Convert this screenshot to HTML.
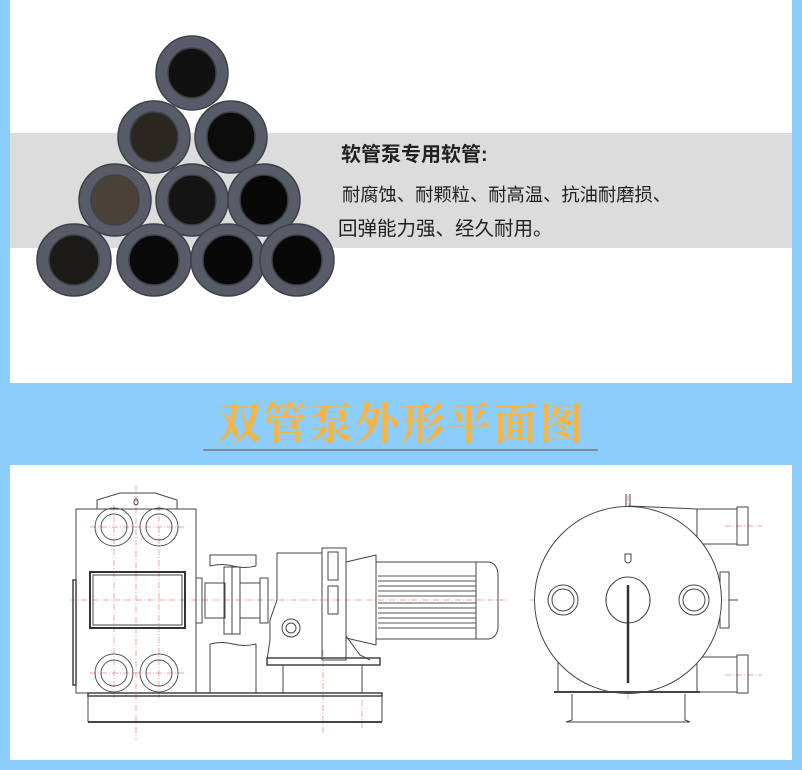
<!DOCTYPE html>
<html><head><meta charset="utf-8"><style>
html,body{margin:0;padding:0;}
body{width:802px;height:770px;background:#8dcdfb;position:relative;overflow:hidden;font-family:"Liberation Sans","Noto Sans CJK SC",sans-serif;}
.p1{position:absolute;left:10px;top:0;width:782px;height:383px;background:#fff;}
.band{position:absolute;left:10px;top:133px;width:782px;height:115px;background:#dcdcdc;}
.t1{position:absolute;left:341px;top:141px;font-size:20px;font-weight:bold;color:#222;line-height:28px;}
.t2{position:absolute;left:342px;top:182px;font-size:18.3px;color:#222;line-height:26px;white-space:nowrap;}
.t3{position:absolute;left:338px;top:216px;font-size:19.5px;color:#222;line-height:26px;white-space:nowrap;}
.title{position:absolute;left:0;width:802px;top:393px;text-align:center;font-family:"Noto Serif CJK SC",serif;font-size:44px;line-height:54px;font-weight:bold;color:#f5b544;letter-spacing:2px;}
.line{position:absolute;left:203px;top:449px;width:395px;height:2px;background:#7f8c97;}
.p2{position:absolute;left:10px;top:465px;width:782px;height:295px;background:#fff;}
</style></head><body>
<div class="p1"></div>
<div class="band"></div>
<svg style="position:absolute;left:0;top:0" width="802" height="383">
<g stroke="#3e4148" stroke-width="1.5">
<ellipse cx="192" cy="73" rx="36" ry="37" fill="#575c68"/><ellipse cx="192" cy="73" rx="24" ry="25" fill="#111"/>
<ellipse cx="154" cy="137" rx="36" ry="36" fill="#575c68"/><ellipse cx="154" cy="137" rx="24" ry="25" fill="#2a2620"/>
<ellipse cx="231" cy="137" rx="36" ry="36" fill="#575c68"/><ellipse cx="231" cy="137" rx="24" ry="25" fill="#0c0c0c"/>
<ellipse cx="115" cy="200" rx="36" ry="36" fill="#575c68"/><ellipse cx="115" cy="200" rx="24" ry="25" fill="#4a4238"/>
<ellipse cx="192" cy="200" rx="36" ry="36" fill="#575c68"/><ellipse cx="192" cy="200" rx="24" ry="25" fill="#141414"/>
<ellipse cx="264" cy="200" rx="36" ry="36" fill="#575c68"/><ellipse cx="264" cy="200" rx="24" ry="25" fill="#080808"/>
<ellipse cx="74" cy="260" rx="37" ry="36" fill="#575c68"/><ellipse cx="74" cy="260" rx="25" ry="25" fill="#1c1a18"/>
<ellipse cx="154" cy="260" rx="37" ry="36" fill="#575c68"/><ellipse cx="154" cy="260" rx="25" ry="25" fill="#0a0a0a"/>
<ellipse cx="228" cy="260" rx="37" ry="36" fill="#575c68"/><ellipse cx="228" cy="260" rx="25" ry="25" fill="#080808"/>
<ellipse cx="297" cy="260" rx="37" ry="36" fill="#575c68"/><ellipse cx="297" cy="260" rx="25" ry="25" fill="#080808"/>
</g>
</svg>
<div class="t1">软管泵专用软管:</div>
<div class="t2">耐腐蚀、耐颗粒、耐高温、抗油耐磨损、</div>
<div class="t3">回弹能力强、经久耐用。</div>
<div class="title">双管泵外形平面图</div>
<div class="line"></div>
<div class="p2"></div>
<svg style="position:absolute;left:0;top:0" width="802" height="770" fill="none" stroke="#444" stroke-width="1">
<g stroke="#f08080" stroke-dasharray="6,2,1,2" stroke-width="0.7">
<line x1="70" y1="600" x2="510" y2="600"/><line x1="136" y1="485" x2="136" y2="740"/>
<line x1="90" y1="527" x2="185" y2="527"/><line x1="90" y1="673" x2="185" y2="673"/>
<line x1="114" y1="505" x2="114" y2="700"/><line x1="159" y1="505" x2="159" y2="700"/>
<line x1="323" y1="650" x2="323" y2="735"/><line x1="362" y1="700" x2="362" y2="730"/>
<line x1="530" y1="600" x2="735" y2="600"/><line x1="628" y1="495" x2="628" y2="700"/>
<line x1="563" y1="580" x2="563" y2="620"/><line x1="694" y1="580" x2="694" y2="620"/>
<line x1="725" y1="526" x2="762" y2="526"/><line x1="725" y1="675" x2="762" y2="675"/>
</g>
<rect x="76" y="509" width="120" height="184"/>
<polyline points="97,509 97,500 120,493 155,493 177,500 177,509"/>
<ellipse cx="136" cy="502" rx="2" ry="3"/>
<g stroke="#555">
<circle cx="114" cy="527" r="19"/><circle cx="114" cy="527" r="13"/>
<circle cx="159" cy="527" r="19"/><circle cx="159" cy="527" r="13"/>
<circle cx="114" cy="673" r="19"/><circle cx="114" cy="673" r="13"/>
<circle cx="159" cy="673" r="19"/><circle cx="159" cy="673" r="13"/>
</g>
<rect x="90" y="572" width="95" height="56" stroke-width="2" stroke="#333"/>
<rect x="93" y="575" width="89" height="50"/>
<rect x="73" y="580" width="3" height="105" stroke-width="1.5"/>
<rect x="196" y="578" width="6" height="45"/>
<rect x="88" y="693" width="294" height="3" stroke-width="1.5"/>
<line x1="88" y1="696" x2="88" y2="722"/>
<line x1="88" y1="722" x2="382" y2="722" stroke-width="2"/>
<line x1="382" y1="696" x2="382" y2="722"/>
<polyline points="210,566 210,555 256,555 256,566"/>
<path d="M210,566 q12,-3 23,0 t23,0"/>
<path d="M210,644 q12,-3 23,0 t23,0"/>
<line x1="210" y1="644" x2="210" y2="693"/><line x1="256" y1="644" x2="256" y2="693"/>
<rect x="205" y="583" width="20" height="35"/>
<rect x="224" y="567" width="16" height="67"/><line x1="232" y1="567" x2="232" y2="634"/>
<rect x="240" y="583" width="20" height="35"/>
<rect x="260" y="578" width="8" height="45"/>
<polyline points="267,660 270,640 270,620 277,600 277,553 322,553"/>
<circle cx="291" cy="628" r="9"/><circle cx="291" cy="628" r="5"/>
<rect x="322" y="548" width="24" height="112"/>
<rect x="328" y="552" width="10" height="28"/><rect x="328" y="586" width="10" height="28"/>
<polygon points="346,562 376,555 376,645 346,638"/>
<path d="M346,636 L360,655 L370,660"/>
<rect x="267" y="658" width="113" height="7" stroke-width="1.5"/>
<line x1="283" y1="665" x2="283" y2="693"/><line x1="362" y1="665" x2="362" y2="693"/>
<rect x="376" y="562" width="100" height="77"/>
<path d="M476,562 h12 a10,12 0 0 1 10,12 v53 a10,12 0 0 1 -10,12 h-12"/>
<g stroke="#555"><line x1="378" y1="576" x2="476" y2="576"/><line x1="378" y1="581" x2="476" y2="581"/><line x1="378" y1="586" x2="476" y2="586"/><line x1="378" y1="591" x2="476" y2="591"/><line x1="378" y1="596" x2="476" y2="596"/><line x1="378" y1="603" x2="476" y2="603"/><line x1="378" y1="608" x2="476" y2="608"/><line x1="378" y1="613" x2="476" y2="613"/><line x1="378" y1="618" x2="476" y2="618"/><line x1="378" y1="623" x2="476" y2="623"/><line x1="378" y1="628" x2="476" y2="628"/></g>
<rect x="697" y="509" width="40" height="35"/>
<rect x="737" y="507" width="11" height="38"/>
<rect x="697" y="657" width="40" height="35"/>
<rect x="737" y="655" width="11" height="38"/>
<line x1="628" y1="506" x2="697" y2="509"/>
<rect x="720" y="572" width="9" height="56"/>
<line x1="729" y1="600" x2="738" y2="600"/>
<line x1="626" y1="494" x2="626" y2="506"/><line x1="630" y1="494" x2="630" y2="506"/>
<rect x="558" y="640" width="139" height="52"/>
<circle cx="628" cy="600" r="93.5" fill="#fff"/>
<circle cx="563" cy="600" r="15"/><circle cx="563" cy="600" r="11"/>
<circle cx="694" cy="600" r="15"/><circle cx="694" cy="600" r="11"/>
<ellipse cx="628" cy="600" rx="22" ry="23"/>
<line x1="628" y1="585" x2="628" y2="683" stroke-width="2.5" stroke="#333"/>
<path d="M625,554 v6 a3,3 0 0 0 6,0 v-6 z"/>
<line x1="554" y1="692" x2="700" y2="692" stroke-width="2"/>
<polyline points="572,694 572,720 566,722"/><polyline points="685,694 685,720 690,722"/>
<line x1="566" y1="722" x2="690" y2="722"/>
</svg>
</body></html>
